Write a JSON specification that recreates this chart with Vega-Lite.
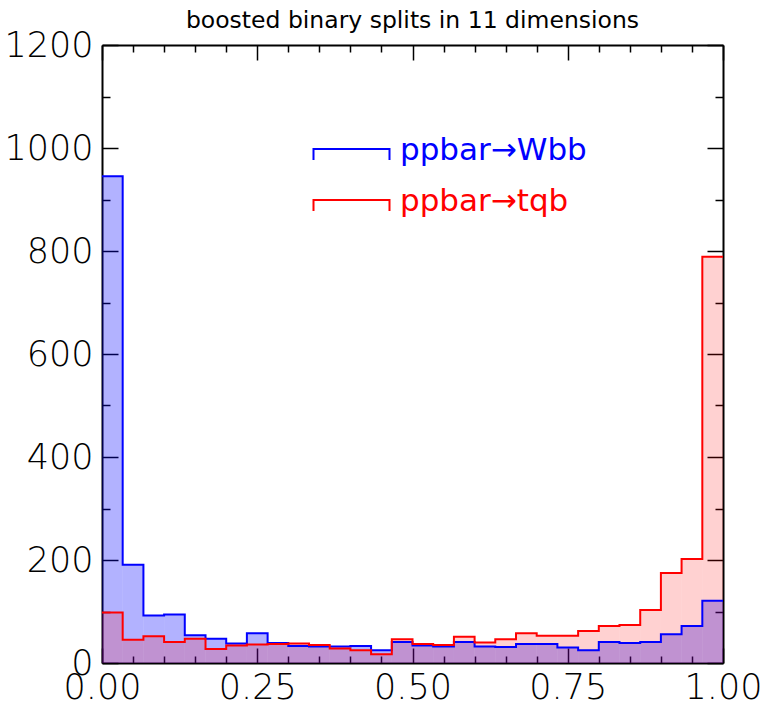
{
  "$schema": "https://vega.github.io/schema/vega-lite/v6.json",
  "width": 621,
  "height": 618,
  "autosize": {"type": "none"},
  "padding": {"left": 102, "top": 45, "right": 43, "bottom": 43},
  "background": "white",
  "title": {"text": "boosted binary splits in 11 dimensions", "font": "DejaVu Sans", "fontSize": 23.5, "fontWeight": "normal", "color": "black", "offset": -4, "anchor": "middle"},
  "config": {
    "view": {"stroke": null},
    "axis": {"grid": false, "title": null, "zindex": 1, "tickColor": "black", "domainColor": "black", "domainWidth": 2, "tickWidth": 1.5, "labelFont": "DejaVu Sans", "labelFontSize": 35, "labelFontWeight": 200, "labelColor": "black", "labelFlush": false, "labelOverlap": false, "labelBound": false}
  },
  "datasets": {
    "h": [
      {"s": "ppbar→Wbb", "lo": 0, "hi": 0.0333, "n": 945},
      {"s": "ppbar→Wbb", "lo": 0.0333, "hi": 0.0667, "n": 191},
      {"s": "ppbar→Wbb", "lo": 0.0667, "hi": 0.1, "n": 92},
      {"s": "ppbar→Wbb", "lo": 0.1, "hi": 0.1333, "n": 94},
      {"s": "ppbar→Wbb", "lo": 0.1333, "hi": 0.1667, "n": 54},
      {"s": "ppbar→Wbb", "lo": 0.1667, "hi": 0.2, "n": 47},
      {"s": "ppbar→Wbb", "lo": 0.2, "hi": 0.2333, "n": 38},
      {"s": "ppbar→Wbb", "lo": 0.2333, "hi": 0.2667, "n": 58},
      {"s": "ppbar→Wbb", "lo": 0.2667, "hi": 0.3, "n": 39},
      {"s": "ppbar→Wbb", "lo": 0.3, "hi": 0.3333, "n": 33},
      {"s": "ppbar→Wbb", "lo": 0.3333, "hi": 0.3667, "n": 32},
      {"s": "ppbar→Wbb", "lo": 0.3667, "hi": 0.4, "n": 32},
      {"s": "ppbar→Wbb", "lo": 0.4, "hi": 0.4333, "n": 33},
      {"s": "ppbar→Wbb", "lo": 0.4333, "hi": 0.4667, "n": 25},
      {"s": "ppbar→Wbb", "lo": 0.4667, "hi": 0.5, "n": 41},
      {"s": "ppbar→Wbb", "lo": 0.5, "hi": 0.5333, "n": 34},
      {"s": "ppbar→Wbb", "lo": 0.5333, "hi": 0.5667, "n": 32},
      {"s": "ppbar→Wbb", "lo": 0.5667, "hi": 0.6, "n": 41},
      {"s": "ppbar→Wbb", "lo": 0.6, "hi": 0.6333, "n": 32},
      {"s": "ppbar→Wbb", "lo": 0.6333, "hi": 0.6667, "n": 31},
      {"s": "ppbar→Wbb", "lo": 0.6667, "hi": 0.7, "n": 37},
      {"s": "ppbar→Wbb", "lo": 0.7, "hi": 0.7333, "n": 37},
      {"s": "ppbar→Wbb", "lo": 0.7333, "hi": 0.7667, "n": 30},
      {"s": "ppbar→Wbb", "lo": 0.7667, "hi": 0.8, "n": 25},
      {"s": "ppbar→Wbb", "lo": 0.8, "hi": 0.8333, "n": 41},
      {"s": "ppbar→Wbb", "lo": 0.8333, "hi": 0.8667, "n": 39},
      {"s": "ppbar→Wbb", "lo": 0.8667, "hi": 0.9, "n": 41},
      {"s": "ppbar→Wbb", "lo": 0.9, "hi": 0.9333, "n": 56},
      {"s": "ppbar→Wbb", "lo": 0.9333, "hi": 0.9667, "n": 72},
      {"s": "ppbar→Wbb", "lo": 0.9667, "hi": 1, "n": 121},
      {"s": "ppbar→tqb", "lo": 0, "hi": 0.0333, "n": 98},
      {"s": "ppbar→tqb", "lo": 0.0333, "hi": 0.0667, "n": 45},
      {"s": "ppbar→tqb", "lo": 0.0667, "hi": 0.1, "n": 52},
      {"s": "ppbar→tqb", "lo": 0.1, "hi": 0.1333, "n": 41},
      {"s": "ppbar→tqb", "lo": 0.1333, "hi": 0.1667, "n": 47},
      {"s": "ppbar→tqb", "lo": 0.1667, "hi": 0.2, "n": 27},
      {"s": "ppbar→tqb", "lo": 0.2, "hi": 0.2333, "n": 34},
      {"s": "ppbar→tqb", "lo": 0.2333, "hi": 0.2667, "n": 36},
      {"s": "ppbar→tqb", "lo": 0.2667, "hi": 0.3, "n": 37},
      {"s": "ppbar→tqb", "lo": 0.3, "hi": 0.3333, "n": 38},
      {"s": "ppbar→tqb", "lo": 0.3333, "hi": 0.3667, "n": 35},
      {"s": "ppbar→tqb", "lo": 0.3667, "hi": 0.4, "n": 28},
      {"s": "ppbar→tqb", "lo": 0.4, "hi": 0.4333, "n": 25},
      {"s": "ppbar→tqb", "lo": 0.4333, "hi": 0.4667, "n": 17},
      {"s": "ppbar→tqb", "lo": 0.4667, "hi": 0.5, "n": 46},
      {"s": "ppbar→tqb", "lo": 0.5, "hi": 0.5333, "n": 37},
      {"s": "ppbar→tqb", "lo": 0.5333, "hi": 0.5667, "n": 35},
      {"s": "ppbar→tqb", "lo": 0.5667, "hi": 0.6, "n": 51},
      {"s": "ppbar→tqb", "lo": 0.6, "hi": 0.6333, "n": 40},
      {"s": "ppbar→tqb", "lo": 0.6333, "hi": 0.6667, "n": 46},
      {"s": "ppbar→tqb", "lo": 0.6667, "hi": 0.7, "n": 58},
      {"s": "ppbar→tqb", "lo": 0.7, "hi": 0.7333, "n": 53},
      {"s": "ppbar→tqb", "lo": 0.7333, "hi": 0.7667, "n": 53},
      {"s": "ppbar→tqb", "lo": 0.7667, "hi": 0.8, "n": 62},
      {"s": "ppbar→tqb", "lo": 0.8, "hi": 0.8333, "n": 72},
      {"s": "ppbar→tqb", "lo": 0.8333, "hi": 0.8667, "n": 74},
      {"s": "ppbar→tqb", "lo": 0.8667, "hi": 0.9, "n": 103},
      {"s": "ppbar→tqb", "lo": 0.9, "hi": 0.9333, "n": 175},
      {"s": "ppbar→tqb", "lo": 0.9333, "hi": 0.9667, "n": 202},
      {"s": "ppbar→tqb", "lo": 0.9667, "hi": 1, "n": 789}
    ]
  },
  "data": {"name": "h"},
  "layer": [
    {
      "transform": [{"filter": {"field": "s", "equal": "ppbar→Wbb"}}],
      "mark": {"type": "rect", "color": "#0000ff", "opacity": 0.3},
      "encoding": {
        "x": {"field": "lo", "type": "quantitative", "scale": {"domain": [0, 1], "nice": false, "zero": false},
          "axis": {"orient": "bottom", "values": [0, 0.25, 0.5, 0.75, 1], "format": ".2f", "tickSize": -15, "labelPadding": 22}},
        "x2": {"field": "hi"},
        "y": {"field": "n", "type": "quantitative", "scale": {"domain": [0, 1200], "nice": false},
          "axis": {"orient": "left", "values": [0, 200, 400, 600, 800, 1000, 1200], "format": "d", "tickSize": -16, "labelPadding": 25}},
        "y2": {"datum": 0}
      }
    },
    {
      "transform": [{"filter": {"field": "s", "equal": "ppbar→tqb"}}],
      "mark": {"type": "rect", "color": "#ff0000", "opacity": 0.18},
      "encoding": {
        "x": {"field": "lo", "type": "quantitative",
          "axis": {"orient": "top", "values": [0, 0.25, 0.5, 0.75, 1], "labels": false, "tickSize": -15}},
        "x2": {"field": "hi"},
        "y": {"field": "n", "type": "quantitative",
          "axis": {"orient": "right", "values": [0, 200, 400, 600, 800, 1000, 1200], "labels": false, "tickSize": -16}},
        "y2": {"datum": 0}
      }
    },
    {
      "transform": [{"filter": {"field": "s", "equal": "ppbar→Wbb"}}, {"fold": ["lo", "hi"], "as": ["k", "xv"]}],
      "mark": {"type": "line", "strokeWidth": 2, "interpolate": "linear"},
      "encoding": {
        "x": {"field": "xv", "type": "quantitative",
          "axis": {"orient": "bottom", "values": [0.05, 0.1, 0.15, 0.2, 0.3, 0.35, 0.4, 0.45, 0.55, 0.6, 0.65, 0.7, 0.8, 0.85, 0.9, 0.95], "labels": false, "domain": false, "tickSize": -7}},
        "y": {"field": "n", "type": "quantitative",
          "axis": {"orient": "left", "values": [100, 300, 500, 700, 900, 1100], "labels": false, "domain": false, "tickSize": -8}},
        "color": {"field": "s", "type": "nominal",
          "scale": {"domain": ["ppbar→Wbb", "ppbar→tqb"], "range": ["#0000ff", "#ff0000"]},
          "legend": {"orient": "none", "legendX": 234, "legendY": 90, "title": null, "padding": 0,
            "symbolType": "M-7.6,1.9L-7.6,-0.3L7.6,-0.3L7.6,1.9", "symbolSize": 100, "symbolStrokeWidth": 2,
            "symbolFillColor": "transparent", "labelFont": "DejaVu Sans", "labelFontSize": 31, "labelOffset": 33,
            "rowPadding": 19, "labelLimit": 400, "direction": "vertical",
            "encode": {"labels": {"update": {"fill": {"scale": "color", "field": "value"}}}}}},
        "order": [{"field": "xv", "type": "quantitative"}, {"field": "k", "type": "ordinal", "sort": "ascending"}]
      }
    },
    {
      "transform": [{"filter": {"field": "s", "equal": "ppbar→tqb"}}, {"fold": ["lo", "hi"], "as": ["k", "xv"]}],
      "mark": {"type": "line", "strokeWidth": 2, "interpolate": "linear"},
      "encoding": {
        "x": {"field": "xv", "type": "quantitative",
          "axis": {"orient": "top", "values": [0.05, 0.1, 0.15, 0.2, 0.3, 0.35, 0.4, 0.45, 0.55, 0.6, 0.65, 0.7, 0.8, 0.85, 0.9, 0.95], "labels": false, "domain": false, "tickSize": -7}},
        "y": {"field": "n", "type": "quantitative",
          "axis": {"orient": "right", "values": [100, 300, 500, 700, 900, 1100], "labels": false, "domain": false, "tickSize": -8}},
        "color": {"field": "s", "type": "nominal"},
        "order": [{"field": "xv", "type": "quantitative"}, {"field": "k", "type": "ordinal", "sort": "ascending"}]
      }
    }
  ],
  "resolve": {"axis": {"x": "independent", "y": "independent"}}
}
